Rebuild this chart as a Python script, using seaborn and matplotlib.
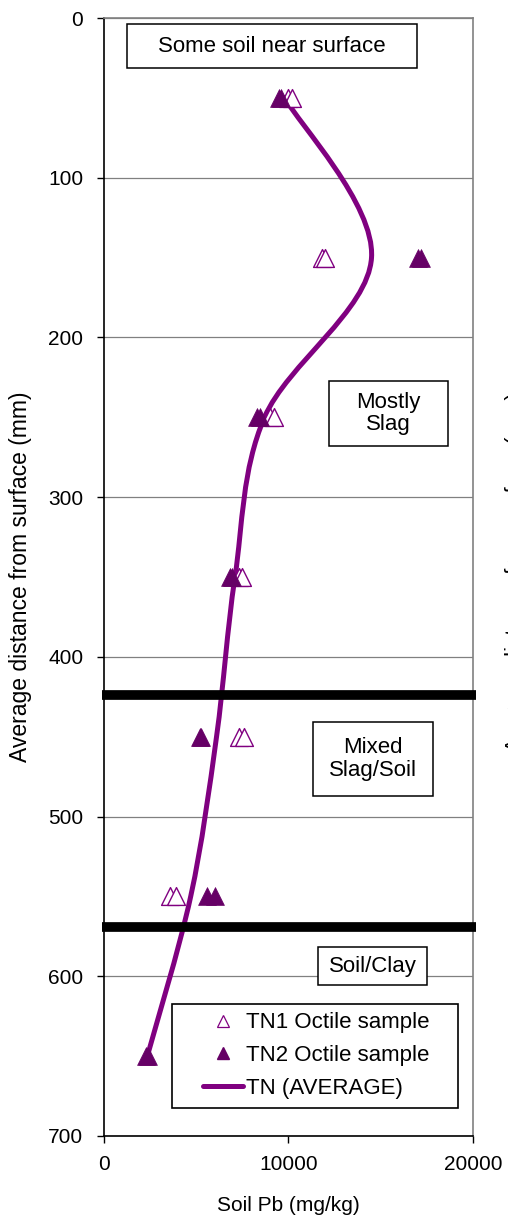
import numpy as np
import pandas as pd
import matplotlib
matplotlib.use("Agg")
import matplotlib.pyplot as plt
from matplotlib.path import Path
from matplotlib.patches import PathPatch, Rectangle
from matplotlib.lines import Line2D
import seaborn as sns

# depth (mm) and soil Pb (mg/kg)
tn1_depth = [50, 50, 150, 150, 250, 250, 350, 350, 450, 450, 550, 550]
tn1_pb = [10000, 10200, 11800, 12000, 9000, 9200, 7300, 7500, 7300, 7600, 3600, 3900]

tn2_depth = [50, 50, 150, 150, 250, 250, 350, 350, 450, 450, 550, 550, 650, 650]
tn2_pb = [9500, 9600, 17000, 17200, 8300, 8450, 6850, 6950, 5200, 5250, 5600, 6000, 2300, 2400]

avg_depth = [50, 150, 250, 350, 450, 550, 650]
avg_pb = [9800, 14500, 8700, 7100, 6100, 4700, 2350]

layer_bounds = [424, 569]

# zone labels: (text, x-left, x-right, depth-top, depth-bottom)
zones = [
    ("Some soil near surface", 1250, 16970, 3.8, 31.3),
    ("Mostly\nSlag", 12200, 18640, 227, 268),
    ("Mixed\nSlag/Soil", 11330, 17830, 441, 487),
    ("Soil/Clay", 11600, 17500, 582, 605.5),
]

PURPLE = "#800080"
DARK_PURPLE = "#660066"

sns.set_style("white")
plt.rcParams["font.family"] = ["Liberation Sans", "DejaVu Sans"]
plt.rcParams["text.color"] = "black"
plt.rcParams["axes.labelcolor"] = "black"
plt.rcParams["xtick.color"] = "black"
plt.rcParams["ytick.color"] = "black"


def smooth_path(xs, ys):
    # Excel-style smoothed line: cubic Bezier through each point
    pts = np.column_stack([xs, ys]).astype(float)
    n = len(pts)
    verts = [pts[0]]
    codes = [Path.MOVETO]
    for i in range(n - 1):
        p0 = pts[max(i - 1, 0)]
        p1 = pts[i]
        p2 = pts[i + 1]
        p3 = pts[min(i + 2, n - 1)]
        verts += [p1 + (p2 - p0) / 6, p2 - (p3 - p1) / 6, p2]
        codes += [Path.CURVE4] * 3
    return Path(verts, codes)


fig = plt.figure(figsize=(5.08, 12.2), dpi=100)
ax = fig.add_axes([0.2047, 0.0689, 0.7264, 0.9163])

tn1 = pd.DataFrame({"pb": tn1_pb, "depth": tn1_depth})
tn2 = pd.DataFrame({"pb": tn2_pb, "depth": tn2_depth})

ax.add_patch(PathPatch(smooth_path(avg_pb, avg_depth), facecolor="none",
                       edgecolor=PURPLE, lw=3.6, zorder=3, capstyle="round"))

sns.scatterplot(data=tn1, x="pb", y="depth", ax=ax, marker="^", s=165,
                facecolor="white", edgecolor=PURPLE, linewidth=1.0, zorder=4)
sns.scatterplot(data=tn2, x="pb", y="depth", ax=ax, marker="^", s=165,
                color=DARK_PURPLE, edgecolor=DARK_PURPLE, linewidth=0.5, zorder=5)

for b in layer_bounds:
    ax.axhline(b, color="black", lw=7, zorder=6, clip_on=False, xmin=-0.005,
               xmax=1.008, solid_capstyle="butt")

for text, x0, x1, y0, y1 in zones:
    ax.add_patch(Rectangle((x0, y0), x1 - x0, y1 - y0, facecolor="white",
                           edgecolor="black", lw=1.1, zorder=7))
    ax.text((x0 + x1) / 2, (y0 + y1) / 2, text, ha="center", va="center",
            fontsize=16, linespacing=1.1, zorder=8)

ax.set_xlim(0, 20000)
ax.set_ylim(700, 0)
ax.set_xticks([0, 10000, 20000])
ax.set_yticks(range(0, 701, 100))
ax.yaxis.grid(True, color="#808080", lw=0.9)
ax.set_axisbelow(True)

ax.tick_params(axis="both", direction="out", length=5, width=1, color="black",
               labelsize=15, left=True, bottom=True)
ax.tick_params(axis="y", pad=10)
ax.tick_params(axis="x", pad=8.5)

for side in ["left", "bottom"]:
    ax.spines[side].set_color("black")
    ax.spines[side].set_linewidth(1.2)
for side in ["top", "right"]:
    ax.spines[side].set_color("#808080")
    ax.spines[side].set_linewidth(1.2)

ax.set_xlabel("Soil Pb (mg/kg)", fontsize=15)
ax.xaxis.set_label_coords(0.5, -0.054)
ax.set_ylabel("Average distance from surface (mm)", fontsize=16.5)
ax.yaxis.set_label_coords(-0.195, 0.5)

# legend with its own frame
ax.add_patch(Rectangle((0.184, 0.025), 0.775, 0.093, transform=ax.transAxes,
                       facecolor="white", edgecolor="black", lw=1.2, zorder=9))
handles = [
    Line2D([], [], ls="none", marker="^", ms=9, mfc="white", mec=PURPLE, mew=0.9),
    Line2D([], [], ls="none", marker="^", ms=9, mfc=DARK_PURPLE, mec=DARK_PURPLE),
    Line2D([], [], color=PURPLE, lw=3.6, solid_capstyle="round"),
]
labels = ["TN1 Octile sample", "TN2 Octile sample", "TN (AVERAGE)"]
leg = ax.legend(handles, labels, loc="upper left", bbox_to_anchor=(0.268, 0.1105),
                frameon=False, fontsize=16, handlelength=1.8, handletextpad=0.15,
                labelspacing=0.52, borderpad=0, borderaxespad=0)
leg.set_zorder(10)

# clipped duplicate axis title at the right edge of the export
fig.text(505 / 508, 0.531, "Average distance from surface (mm)", rotation=90,
         ha="left", va="center", fontsize=16)

fig.savefig("out.png", dpi=100)
